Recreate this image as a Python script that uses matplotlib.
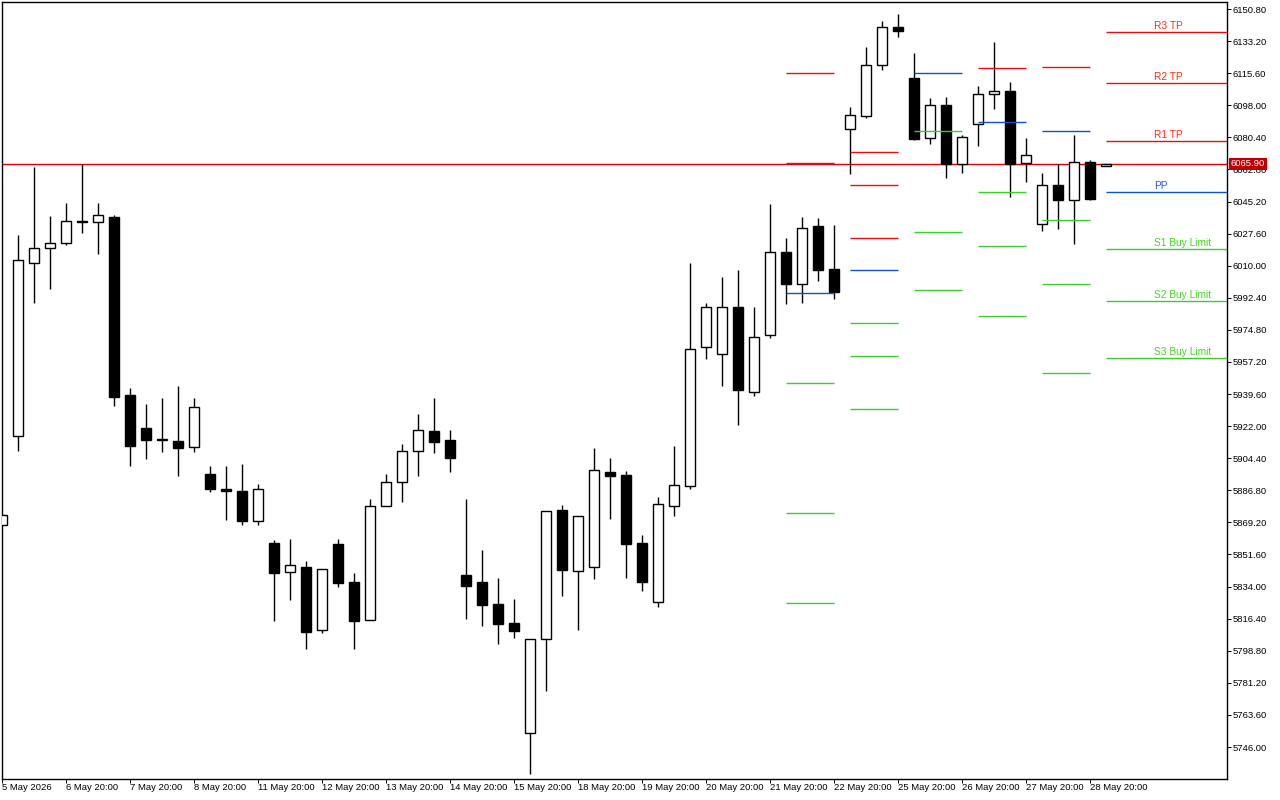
import matplotlib
matplotlib.use("Agg")
import matplotlib.pyplot as plt
from matplotlib.patches import Rectangle
from matplotlib.transforms import blended_transform_factory
import numpy as np

plt.rcParams['font.family'] = ['Liberation Sans', 'DejaVu Sans']

# ---- candle data (index -1 .. 68) ----
candle_index = list(range(-1, 69))
opens = [5867.8, 5916.6, 6011.5, 6019.7, 6022.5, 6034.5, 6034.0, 6036.7, 5939.1, 5921.0,
         5915.0, 5913.9, 5910.6, 5895.8, 5887.5, 5886.4, 5870.0, 5857.9, 5842.0, 5844.7,
         5810.2, 5857.4, 5836.5, 5815.7, 5878.2, 5891.4, 5908.4, 5919.3, 5914.4, 5840.4,
         5836.5, 5824.4, 5814.0, 5753.7, 5805.3, 5876.0, 5842.6, 5844.7, 5896.9, 5895.2,
         5857.9, 5825.5, 5878.2, 5889.2, 5965.4, 5961.6, 5987.4, 5940.7, 5972.0, 6017.5,
         6000.0, 6031.8, 6008.2, 6085.0, 6092.1, 6120.1, 6140.9, 6113.0, 6080.1, 6098.2,
         6065.8, 6087.7, 6104.2, 6105.8, 6066.3, 6032.9, 6054.3, 6046.0, 6066.9, 6064.7]
highs = [5873.3, 6026.8, 6064.1, 6037.3, 6044.4, 6065.8, 6044.4, 6037.8, 5942.9, 5934.2,
         5937.4, 5944.0, 5937.4, 5900.1, 5900.1, 5901.2, 5890.3, 5859.6, 5860.1, 5848.0,
         5843.6, 5860.1, 5841.5, 5882.0, 5895.8, 5912.2, 5928.7, 5937.4, 5919.9, 5882.0,
         5854.1, 5838.7, 5827.2, 5805.3, 5875.5, 5878.7, 5872.7, 5910.0, 5904.5, 5897.4,
         5862.3, 5883.1, 5911.1, 6011.5, 5989.5, 6003.8, 6007.6, 5987.4, 6043.9, 6025.2,
         6036.7, 6036.2, 6032.3, 6097.1, 6130.0, 6144.2, 6148.1, 6126.7, 6102.0, 6102.5,
         6081.7, 6108.6, 6132.7, 6110.8, 6080.1, 6060.9, 6065.8, 6081.7, 6068.0, 6065.9]
lows = [5867.8, 5908.4, 5989.5, 5997.2, 6021.4, 6027.9, 6016.4, 5933.1, 5900.1, 5904.0,
        5907.8, 5894.7, 5907.8, 5885.9, 5870.5, 5867.8, 5867.8, 5815.1, 5826.6, 5799.8,
        5808.5, 5833.8, 5799.8, 5815.7, 5878.2, 5880.4, 5894.7, 5907.3, 5896.9, 5816.2,
        5812.4, 5802.5, 5805.8, 5731.2, 5776.7, 5828.8, 5810.2, 5838.2, 5871.1, 5838.7,
        5831.6, 5822.8, 5872.7, 5887.5, 5958.8, 5944.0, 5922.6, 5938.5, 5970.4, 5989.0,
        5989.5, 6001.6, 5991.7, 6060.3, 6091.0, 6117.3, 6135.4, 6079.0, 6076.8, 6058.1,
        6060.9, 6075.7, 6096.0, 6047.7, 6055.9, 6029.0, 6030.1, 6021.9, 6046.0, 6064.7]
closes = [5873.3, 6013.1, 6019.7, 6022.5, 6034.5, 6033.7, 6037.8, 5938.0, 5911.1, 5914.4,
          5914.6, 5910.2, 5932.5, 5887.5, 5886.4, 5870.0, 5887.5, 5841.5, 5845.8, 5809.1,
          5843.6, 5836.0, 5815.1, 5878.2, 5891.4, 5908.4, 5919.9, 5913.3, 5904.5, 5834.3,
          5823.9, 5813.5, 5809.6, 5805.3, 5875.5, 5843.1, 5872.7, 5897.9, 5894.7, 5857.4,
          5836.5, 5879.3, 5889.7, 5964.3, 5987.4, 5987.4, 5941.8, 5970.9, 6017.5, 6000.0,
          6030.7, 6007.6, 5995.6, 6092.7, 6120.1, 6140.9, 6138.7, 6079.5, 6098.2, 6065.8,
          6080.6, 6104.2, 6105.8, 6065.8, 6070.7, 6054.3, 6046.0, 6066.9, 6046.6, 6065.9]

current_price = 6065.90

# ---- daily pivot sets (first/last candle index of each day) ----
pivot_first = [48, 52, 56, 60, 64, 68]
pivot_last = [51, 55, 59, 63, 67, 76]
R3 = [6187.0, 6072.4, 6258.3, 6186.5, 6202.9, 6138.2]
R2 = [6115.7, 6054.3, 6202.9, 6156.8, 6167.8, 6110.2]
R1 = [6066.3, 6025.2, 6171.1, 6118.4, 6119.0, 6078.4]
PP = [5995.0, 6007.6, 6115.7, 6088.8, 6083.9, 6050.4]
S1 = [5945.7, 5978.6, 6083.9, 6050.4, 6035.1, 6019.2]
S2 = [5874.4, 5960.5, 6028.5, 6020.8, 6000.0, 5990.6]
S3 = [5825.0, 5931.4, 5996.7, 5982.4, 5951.2, 5959.4]
level_names = ["R3 TP", "R2 TP", "R1 TP", "PP", "S1 Buy Limit", "S2 Buy Limit", "S3 Buy Limit"]

# ---- axis ticks ----
xtick_pos = list(range(-1, 68, 4))
xtick_labels = ["5 May 2026", "6 May 20:00", "7 May 20:00", "8 May 20:00", "11 May 20:00",
                "12 May 20:00", "13 May 20:00", "14 May 20:00", "15 May 20:00", "18 May 20:00",
                "19 May 20:00", "20 May 20:00", "21 May 20:00", "22 May 20:00", "25 May 20:00",
                "26 May 20:00", "27 May 20:00", "28 May 20:00"]
ytick_top = 6150.80
ytick_step = 17.60
ytick_count = 24

RED = '#e8100c'
BLUE = '#1050d8'
GREEN = '#3ccc2c'
TXT_RED = '#ff2a10'
TXT_BLUE = '#2060e0'
TXT_GREEN = '#44d424'

fig = plt.figure(figsize=(12.8, 8), dpi=100)
ax = fig.add_axes([2/1280, 21/800, 1225/1280, 777/800])
ax.set_xlim(-1.0, 75.56)
ax.set_ylim(5728.46, 6154.64)

px = 0.72  # one pixel in points

# current price line
ax.axhline(current_price, color='#e00000', lw=1.0, zorder=1)

# candles
w = 0.31
for x, o, h, l, c in zip(candle_index, opens, highs, lows, closes):
    ax.vlines(x, l, h, color='black', lw=1.4*px, zorder=2)
    bull = c >= o
    rect = Rectangle((x - w, min(o, c)), 2*w, abs(c - o),
                     facecolor='white' if bull else 'black',
                     edgecolor='black', lw=1.4*px, zorder=3)
    ax.add_patch(rect)

# pivot segments
level_lists = [R3, R2, R1, PP, S1, S2, S3]
level_colors = [RED, RED, RED, BLUE, GREEN, GREEN, GREEN]
for k, (a, b) in enumerate(zip(pivot_first, pivot_last)):
    for lv, col in zip(level_lists, level_colors):
        ax.hlines(lv[k], a, b, color=col, lw=1.0, zorder=4)

# labels for the latest set
label_colors = [TXT_RED, TXT_RED, TXT_RED, TXT_BLUE, TXT_GREEN, TXT_GREEN, TXT_GREEN]
for name, lv, col in zip(level_names, level_lists, label_colors):
    ax.annotate(name, xy=(71.0, lv[-1]), xytext=(0, 2.0), textcoords='offset points',
                ha='left', va='baseline', fontsize=7.3, color=col, zorder=5)

# axes styling
for s in ax.spines.values():
    s.set_color('black')
    s.set_linewidth(1.0)

yticks = [ytick_top - ytick_step*k for k in range(ytick_count)]
ax.yaxis.set_ticks_position('right')
ax.set_yticks(yticks)
ax.set_yticklabels([f"{v:.2f}" for v in yticks])
ax.tick_params(axis='y', direction='out', length=4*px, width=px, pad=1.0,
               labelsize=6.8, colors='black')

ax.set_xticks(xtick_pos)
ax.set_xticklabels(xtick_labels, ha='left')
ax.tick_params(axis='x', direction='out', length=4*px, width=px, pad=0.3,
               labelsize=6.8, colors='black')

# current price tag on the price axis
trans = blended_transform_factory(ax.transAxes, ax.transData)
ax.text(1.0030, current_price, f"{current_price:.2f}", transform=trans,
        ha='left', va='center', fontsize=6.8, color='white', zorder=10, clip_on=False,
        bbox=dict(boxstyle='square,pad=0.18', fc='#c00000', ec='none'))

fig.savefig('out.png', dpi=100, facecolor='white')
